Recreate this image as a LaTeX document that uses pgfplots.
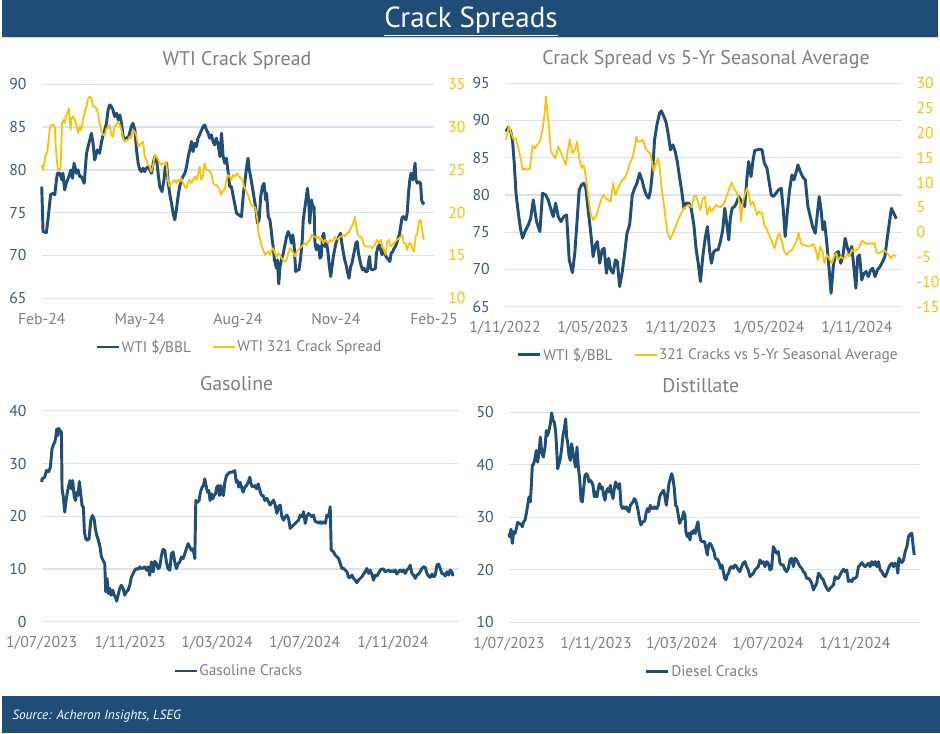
\documentclass[border=0pt]{standalone}
\usepackage{pgfplots}
\pgfplotsset{compat=1.18}
\usepackage{fontspec}
\setmainfont{PT Sans}
\definecolor{navy}{HTML}{1F4E79}
\definecolor{gold}{HTML}{FFC000}
\definecolor{gridc}{HTML}{DAE4F1}
\definecolor{tgray}{HTML}{7F7F7F}
\definecolor{yblue}{HTML}{3B5A80}
\definecolor{hdr}{HTML}{1F4D78}
\definecolor{sepc}{HTML}{C9D6E3}
\newcommand{\tickfont}{\fontsize{11.8}{13}\selectfont}
\newcommand{\legfont}{\fontsize{11.5}{13}\selectfont}
\newcommand{\titlefont}{\fontsize{14.9}{17}\selectfont}
\pgfplotsset{
  /pgf/number format/assume math mode=true,
  navyline/.style={navy, line width=2.2pt, line join=round},
  goldline/.style={gold, line width=1.3pt, line join=round},
  panel/.style={
    scale only axis, anchor=south west, clip=false,
    axis line style={draw=none},
    major tick length=0pt,
    ymajorgrids, grid style={gridc, line width=1pt},
    tick label style={font=\tickfont},
    xticklabel style={text=tgray, anchor=base, yshift=-19.5pt},
    legend image code/.code={\draw[#1, line cap=butt] (0pt,0pt) -- (16.5pt,0pt);},
    legend style={draw=none, fill=none, font=\legfont, text=tgray, anchor=center,
      nodes={inner sep=1pt},
      /tikz/every even column/.append style={column sep=15pt}},
  },
  leftlab/.style={ticklabel pos=left, yticklabel style={text=yblue, anchor=east, inner sep=0pt, xshift=-11.25pt}},
  rightlab/.style={ticklabel pos=right, hide x axis, ymajorgrids=false,
    yticklabel style={text=gold, anchor=west, inner sep=0pt, xshift=10.5pt}},
}
\begin{document}
\begin{tikzpicture}
\fill[white] (0pt,0pt) rectangle (705pt,-549.75pt);
\fill[hdr] (1.5pt,0pt) rectangle (703.5pt,-27.75pt);
\draw[sepc, line width=0.75pt] (1.5pt,-28.2pt) -- (703.5pt,-28.2pt);
\node[anchor=base, text=white, font=\fontsize{21.8}{24}\selectfont, inner sep=0pt] at (353.25pt,-20.5pt) {\underline{Crack Spreads}};
\fill[hdr] (1.5pt,-522pt) rectangle (705pt,-549.75pt);
\node[anchor=base west, text=white, font=\fontsize{10}{12}\selectfont\itshape, inner sep=0pt] at (9pt,-539.5pt) {Source: Acheron Insights, LSEG};
\node[anchor=base, text=tgray, font=\titlefont, inner sep=0pt] at (177.75pt,-48.75pt) {WTI Crack Spread};
\node[anchor=base, text=tgray, font=\titlefont, inner sep=0pt] at (529.5pt,-48pt) {Crack Spread vs 5-Yr Seasonal Average};
\node[anchor=base, text=tgray, font=\titlefont, inner sep=0pt] at (177.5pt,-293pt) {Gasoline};
\node[anchor=base, text=tgray, font=\titlefont, inner sep=0pt] at (525.6pt,-294.2pt) {Distillate};

% ---------------- TL ----------------
\begin{axis}[panel, leftlab, at={(31.3pt,-223.7pt)}, width=294.2pt, height=160.5pt,
  xmin=0, xmax=12, ymin=65, ymax=90, ytick={65,70,...,90},
  xtick={0,3,6,9,12}, xticklabels={Feb-24,May-24,Aug-24,Nov-24,Feb-25}]
\addplot[navyline] coordinates {(0,78.05)(0.04,72.79)(0.14,72.67)(0.19,74.16)(0.27,77.08)(0.35,77.27)(0.40,77.08)(0.45,78.83)(0.48,79.61)(0.55,79.61)(0.62,78.83)(0.65,79.61)(0.70,77.66)(0.75,78.44)(0.83,79.22)(0.89,80.0)(0.94,79.02)(0.99,80.78)(1.06,79.61)(1.11,80.0)(1.16,79.22)(1.21,79.22)(1.30,78.44)(1.37,81.94)(1.42,82.72)(1.52,84.28)(1.57,83.11)(1.62,81.16)(1.70,82.33)(1.77,81.94)(1.83,83.31)(1.88,84.09)(1.93,84.67)(1.98,85.45)(2.03,87.0)(2.08,87.59)(2.13,87.40)(2.18,87.0)(2.23,86.23)(2.29,86.62)(2.34,85.84)(2.39,86.42)(2.44,85.45)(2.49,83.89)(2.54,83.50)(2.59,83.70)(2.66,83.89)(2.74,85.06)(2.79,85.45)(2.85,84.67)(2.90,82.33)(2.95,80.78)(3.00,80.0)(3.05,79.80)(3.10,80.19)(3.15,79.80)(3.20,80.19)(3.26,80.39)(3.31,80.0)(3.36,79.61)(3.41,80.78)(3.46,81.55)(3.51,81.36)(3.56,79.61)(3.61,78.05)(3.68,77.46)(3.74,78.83)(3.78,80.39)(3.82,80.78)(3.87,78.44)(3.92,77.08)(3.97,76.10)(4.02,74.93)(4.07,74.16)(4.12,75.32)(4.17,76.88)(4.22,78.05)(4.27,78.83)(4.32,79.22)(4.38,79.61)(4.43,80.39)(4.48,81.55)(4.53,82.33)(4.58,83.31)(4.63,82.14)(4.68,83.11)(4.73,82.72)(4.78,83.70)(4.83,84.09)(4.89,84.67)(4.94,85.06)(4.99,85.25)(5.04,84.67)(5.09,84.28)(5.14,83.70)(5.19,84.09)(5.24,83.31)(5.29,82.92)(5.34,83.70)(5.40,82.92)(5.45,81.55)(5.50,84.28)(5.55,81.55)(5.60,80.78)(5.65,81.36)(5.70,79.80)(5.75,78.05)(5.80,78.05)(5.85,77.08)(5.90,76.10)(5.96,74.93)(6.03,74.74)(6.11,74.54)(6.17,77.27)(6.21,78.44)(6.27,80.39)(6.31,81.36)(6.35,80.0)(6.39,79.22)(6.44,78.05)(6.49,76.88)(6.54,75.71)(6.60,73.77)(6.65,74.16)(6.70,76.88)(6.75,78.05)(6.80,78.44)(6.85,76.49)(6.88,77.27)(6.93,74.54)(6.98,74.16)(7.02,72.99)(7.05,71.82)(7.08,71.04)(7.12,69.48)(7.18,68.51)(7.21,69.48)(7.25,66.68)(7.29,68.70)(7.33,69.48)(7.39,70.26)(7.43,71.04)(7.49,72.21)(7.54,72.79)(7.60,72.21)(7.64,71.43)(7.68,72.40)(7.72,71.24)(7.77,68.12)(7.82,68.31)(7.87,68.31)(7.92,69.68)(7.97,71.82)(8.00,74.16)(8.04,75.32)(8.09,76.69)(8.13,77.85)(8.17,76.10)(8.20,73.77)(8.25,76.49)(8.29,75.71)(8.33,75.71)(8.36,71.43)(8.40,70.65)(8.43,71.24)(8.48,71.04)(8.51,69.68)(8.55,69.87)(8.59,72.21)(8.63,72.60)(8.67,71.04)(8.71,71.62)(8.76,70.26)(8.80,68.70)(8.84,67.54)(8.88,68.70)(8.92,69.87)(8.96,70.65)(9.00,71.43)(9.04,71.82)(9.09,72.21)(9.14,72.60)(9.18,71.43)(9.23,70.26)(9.27,69.48)(9.31,68.90)(9.35,68.12)(9.40,67.34)(9.45,68.70)(9.49,69.09)(9.53,69.87)(9.57,70.65)(9.61,71.43)(9.65,71.62)(9.69,70.26)(9.74,69.29)(9.78,68.70)(9.82,68.31)(9.86,68.51)(9.91,68.12)(9.96,68.12)(10.00,69.29)(10.03,69.87)(10.06,68.51)(10.11,68.31)(10.16,68.39)(10.21,68.51)(10.24,70.26)(10.29,71.04)(10.33,71.24)(10.37,70.65)(10.41,70.07)(10.45,70.65)(10.49,70.46)(10.53,69.87)(10.57,69.68)(10.61,69.48)(10.65,69.29)(10.69,70.26)(10.74,70.46)(10.78,70.85)(10.82,71.04)(10.86,71.43)(10.90,72.01)(10.94,72.40)(10.98,73.38)(11.02,74.35)(11.06,74.54)(11.10,74.35)(11.14,74.16)(11.18,74.93)(11.22,77.27)(11.26,78.83)(11.30,79.61)(11.35,78.83)(11.39,79.80)(11.42,80.78)(11.45,78.83)(11.49,78.44)(11.54,78.63)(11.59,78.44)(11.62,76.49)(11.66,76.10)(11.71,76.02)};
\end{axis}
\begin{axis}[panel, rightlab, at={(31.3pt,-223.7pt)}, width=294.2pt, height=160.5pt,
  xmin=0, xmax=12, ymin=10, ymax=35, ytick={10,15,...,35},
  legend columns=2, legend style={at={(0.503,-0.2276)}}]
\addlegendimage{navyline}\addlegendentry{WTI \$/BBL}
\addplot[goldline] coordinates {(0.0,25.58)(0.04,25.0)(0.11,26.55)(0.17,27.14)(0.21,28.50)(0.25,29.86)(0.30,30.25)(0.36,30.25)(0.40,30.06)(0.43,27.72)(0.47,25.78)(0.50,25.0)(0.55,25.0)(0.58,25.39)(0.62,30.45)(0.66,30.84)(0.70,30.45)(0.74,31.23)(0.78,31.62)(0.83,32.20)(0.88,29.67)(0.91,31.03)(0.96,31.23)(1.01,30.84)(1.06,30.25)(1.11,29.28)(1.16,30.06)(1.21,29.67)(1.26,30.84)(1.32,31.81)(1.37,32.40)(1.42,33.37)(1.47,33.56)(1.52,33.37)(1.57,32.40)(1.62,32.40)(1.67,32.20)(1.72,31.62)(1.77,30.45)(1.83,29.47)(1.88,29.08)(1.93,29.08)(1.98,29.86)(2.03,29.86)(2.08,30.25)(2.13,29.08)(2.18,28.89)(2.23,30.06)(2.28,30.25)(2.33,30.64)(2.39,30.25)(2.44,29.67)(2.49,28.69)(2.54,28.31)(2.59,28.50)(2.64,28.50)(2.69,28.89)(2.74,28.69)(2.79,29.67)(2.84,29.47)(2.89,29.08)(2.95,27.72)(3.00,27.92)(3.05,28.11)(3.10,28.31)(3.15,26.55)(3.20,26.16)(3.25,25.58)(3.30,25.39)(3.35,24.80)(3.40,25.39)(3.46,26.75)(3.51,26.55)(3.56,26.16)(3.61,25.78)(3.66,25.58)(3.71,25.78)(3.76,25.58)(3.81,25.97)(3.86,23.83)(3.91,23.05)(3.96,23.44)(4.02,23.63)(4.07,23.83)(4.12,23.44)(4.17,23.83)(4.22,23.63)(4.27,24.02)(4.32,23.44)(4.37,23.05)(4.42,22.85)(4.47,23.44)(4.52,23.83)(4.58,23.44)(4.63,23.83)(4.68,24.22)(4.73,23.83)(4.78,24.41)(4.83,25.39)(4.88,23.83)(4.93,24.22)(4.98,25.78)(5.04,25.0)(5.09,25.0)(5.14,24.80)(5.19,24.61)(5.24,23.44)(5.29,23.24)(5.34,23.24)(5.39,23.05)(5.44,22.66)(5.49,22.08)(5.55,22.66)(5.60,22.66)(5.65,23.83)(5.70,24.41)(5.75,24.22)(5.80,23.83)(5.85,24.41)(5.90,24.22)(5.98,24.61)(6.03,24.22)(6.09,24.02)(6.14,23.83)(6.19,23.05)(6.24,22.66)(6.29,22.27)(6.34,21.69)(6.39,21.10)(6.44,20.71)(6.49,20.71)(6.54,20.52)(6.60,19.16)(6.63,17.60)(6.68,16.82)(6.73,16.04)(6.78,15.65)(6.83,15.07)(6.88,15.26)(6.93,15.46)(6.98,15.07)(7.03,15.65)(7.08,15.85)(7.13,15.26)(7.19,14.87)(7.24,15.26)(7.29,15.07)(7.34,14.68)(7.39,14.48)(7.44,14.29)(7.49,14.48)(7.54,15.26)(7.60,15.85)(7.65,15.65)(7.70,15.26)(7.75,14.87)(7.80,15.46)(7.85,15.65)(7.90,15.85)(7.95,16.04)(8.00,16.23)(8.05,16.43)(8.10,16.23)(8.15,16.62)(8.21,16.82)(8.26,17.40)(8.31,17.21)(8.36,17.21)(8.41,17.01)(8.46,17.21)(8.51,16.82)(8.56,17.01)(8.61,16.43)(8.66,16.82)(8.71,16.62)(8.77,16.43)(8.82,16.82)(8.87,16.62)(8.92,16.82)(8.97,17.21)(9.02,17.01)(9.07,16.82)(9.12,17.21)(9.17,17.21)(9.23,17.40)(9.28,17.21)(9.33,17.60)(9.38,17.60)(9.43,17.99)(9.48,18.38)(9.53,18.77)(9.58,19.54)(9.62,18.38)(9.66,17.60)(9.70,17.21)(9.76,17.21)(9.81,16.82)(9.86,16.23)(9.91,16.04)(9.96,16.04)(10.01,16.04)(10.06,16.04)(10.11,15.85)(10.16,16.04)(10.21,16.43)(10.26,16.82)(10.31,16.43)(10.37,16.82)(10.42,16.04)(10.47,15.65)(10.52,15.07)(10.57,16.62)(10.62,16.82)(10.67,16.04)(10.72,16.23)(10.77,16.43)(10.82,16.62)(10.87,16.82)(10.93,17.01)(10.98,17.21)(11.03,17.40)(11.08,16.43)(11.13,16.43)(11.18,15.65)(11.23,16.43)(11.28,16.43)(11.34,15.85)(11.39,15.46)(11.44,17.21)(11.49,17.60)(11.54,18.96)(11.59,19.16)(11.62,18.38)(11.65,17.60)(11.69,16.82)};
\addlegendentry{WTI 321 Crack Spread}
\end{axis}

% ---------------- TR ----------------
\begin{axis}[panel, leftlab, at={(378.75pt,-230pt)}, width=298pt, height=167.6pt,
  xmin=0, xmax=27.1, ymin=65, ymax=95, ytick={65,70,...,95},
  xtick={0,6,12,18,24}, xticklabels={1/11/2022,1/05/2023,1/11/2023,1/05/2024,1/11/2024}]
\addplot[navyline] coordinates {(0.07,88.51)(0.23,89.09)(0.39,88.51)(0.52,87.17)(0.63,84.26)(0.75,80.23)(0.91,77.54)(1.07,75.31)(1.20,74.19)(1.36,75.08)(1.59,75.98)(1.75,76.87)(1.93,79.33)(2.15,76.42)(2.38,75.08)(2.56,80.23)(2.77,80.0)(2.95,79.33)(3.11,78.21)(3.29,77.09)(3.45,78.89)(3.63,77.09)(3.81,76.42)(4.01,77.09)(4.20,77.32)(4.38,71.28)(4.60,69.58)(4.76,72.17)(4.92,76.65)(5.06,80.68)(5.22,81.35)(5.37,81.57)(5.51,80.90)(5.67,77.99)(5.83,75.31)(6.01,71.72)(6.17,73.29)(6.30,73.74)(6.46,70.83)(6.62,72.62)(6.76,72.84)(6.92,69.49)(7.07,71.50)(7.21,69.93)(7.37,69.49)(7.53,71.28)(7.66,71.06)(7.82,67.70)(8.00,69.71)(8.16,72.17)(8.32,74.86)(8.50,75.98)(8.68,80.0)(8.84,80.90)(9.00,81.57)(9.18,82.92)(9.34,82.02)(9.48,80.90)(9.64,80.0)(9.80,79.56)(9.93,80.68)(10.09,83.81)(10.20,87.39)(10.36,89.40)(10.54,90.97)(10.66,91.28)(10.84,90.52)(11.00,89.63)(11.16,87.84)(11.29,86.05)(11.45,86.72)(11.61,85.82)(11.75,84.48)(11.90,82.47)(12.06,80.45)(12.20,78.21)(12.36,78.89)(12.54,78.89)(12.70,78.21)(12.88,75.98)(13.04,72.62)(13.18,70.83)(13.33,68.37)(13.49,71.72)(13.67,74.41)(13.81,75.75)(13.95,72.62)(14.08,70.83)(14.24,72.40)(14.40,72.62)(14.54,72.62)(14.69,73.74)(14.85,75.31)(14.99,78.21)(15.15,75.75)(15.26,73.96)(15.37,76.87)(15.49,78.21)(15.65,78.44)(15.78,78.89)(15.94,79.78)(16.08,79.33)(16.21,78.89)(16.35,78.44)(16.49,82.02)(16.62,84.48)(16.78,82.47)(16.92,84.71)(17.03,85.96)(17.19,86.05)(17.35,86.14)(17.53,86.05)(17.69,84.26)(17.87,83.59)(18.03,81.57)(18.16,80.0)(18.32,79.78)(18.48,80.23)(18.66,80.68)(18.84,80.90)(18.98,77.99)(19.11,74.41)(19.27,77.99)(19.41,80.68)(19.57,82.69)(19.71,82.02)(19.84,82.92)(19.98,84.04)(20.14,83.14)(20.29,82.47)(20.48,82.02)(20.66,78.44)(20.82,77.09)(20.98,75.75)(21.16,74.86)(21.32,77.77)(21.43,79.78)(21.56,77.99)(21.68,75.31)(21.79,76.42)(21.95,73.52)(22.11,69.93)(22.24,66.80)(22.40,70.61)(22.56,72.17)(22.74,72.40)(22.90,70.83)(23.04,71.72)(23.20,74.19)(23.36,72.84)(23.49,72.17)(23.65,73.07)(23.79,70.38)(23.93,67.47)(24.06,71.72)(24.18,71.95)(24.33,68.59)(24.49,69.49)(24.63,69.71)(24.78,69.04)(24.94,69.93)(25.08,70.16)(25.24,69.04)(25.40,69.93)(25.58,70.38)(25.76,71.06)(25.91,71.72)(26.05,73.9)(26.35,78.2)(26.5,77.6)(26.69,76.8)};
\end{axis}
\begin{axis}[panel, rightlab, at={(378.75pt,-230pt)}, width=298pt, height=167.6pt,
  xmin=0, xmax=27.1, ymin=-15, ymax=30, ytick={-15,-10,...,30},
  legend columns=2, legend style={at={(0.511,-0.216)}}]
\addlegendimage{navyline}\addlegendentry{WTI \$/BBL}
\addplot[goldline] coordinates {(0.07,18.59)(0.27,21.41)(0.45,19.59)(0.61,18.59)(0.75,18.92)(0.91,16.91)(1.07,14.89)(1.20,12.54)(1.36,12.88)(1.52,12.54)(1.70,12.88)(1.88,17.38)(2.04,16.91)(2.20,17.58)(2.38,18.25)(2.56,20.60)(2.68,23.29)(2.79,27.32)(2.90,23.96)(3.02,20.60)(3.13,16.24)(3.29,15.56)(3.45,14.89)(3.63,17.24)(3.79,16.24)(3.97,14.89)(4.15,13.55)(4.31,16.91)(4.42,18.72)(4.60,15.90)(4.76,16.57)(4.92,18.25)(5.06,14.89)(5.22,12.88)(5.37,13.55)(5.51,11.20)(5.67,7.50)(5.83,3.81)(6.01,2.47)(6.19,3.14)(6.35,4.48)(6.51,6.16)(6.69,7.50)(6.87,6.83)(7.03,6.50)(7.21,6.16)(7.37,9.86)(7.53,7.50)(7.66,8.51)(7.82,9.52)(8.00,10.53)(8.16,10.86)(8.32,11.87)(8.50,13.88)(8.68,14.89)(8.84,16.91)(8.96,19.26)(9.07,18.25)(9.23,18.25)(9.41,18.59)(9.57,16.91)(9.75,16.24)(9.91,15.90)(10.02,14.22)(10.14,12.21)(10.27,13.55)(10.43,14.89)(10.54,13.21)(10.70,8.51)(10.88,4.48)(11.07,0.12)(11.27,-1.43)(11.45,-0.22)(11.63,1.13)(11.81,2.47)(12.02,3.81)(12.20,4.82)(12.40,5.29)(12.54,5.49)(12.72,5.02)(12.88,7.17)(13.04,7.30)(13.18,5.83)(13.33,4.48)(13.49,6.83)(13.63,7.17)(13.79,3.48)(13.95,5.16)(14.08,4.15)(14.24,4.82)(14.40,5.49)(14.54,5.16)(14.69,5.02)(14.85,5.49)(14.99,6.16)(15.15,7.50)(15.31,8.85)(15.44,9.99)(15.60,8.85)(15.76,8.18)(15.90,7.17)(16.01,5.83)(16.10,2.13)(16.21,5.83)(16.35,7.50)(16.51,8.85)(16.62,7.84)(16.76,5.49)(16.90,6.16)(17.03,5.16)(17.19,3.48)(17.35,4.15)(17.53,3.81)(17.69,1.46)(17.87,0.45)(18.03,-0.55)(18.21,-1.90)(18.39,-3.24)(18.55,-1.23)(18.71,-0.22)(18.89,-1.90)(19.05,-3.91)(19.23,-4.58)(19.39,-3.91)(19.57,-3.58)(19.75,-2.57)(19.91,-1.56)(20.02,-0.08)(20.18,-2.23)(20.33,-2.57)(20.52,-2.70)(20.70,-2.90)(20.88,-2.70)(21.04,-2.37)(21.20,-3.58)(21.34,-5.59)(21.50,-2.90)(21.66,-3.91)(21.79,-6.26)(21.95,-4.58)(22.11,-5.25)(22.29,-6.26)(22.45,-4.92)(22.59,-4.25)(22.74,-5.59)(22.90,-4.92)(23.04,-5.25)(23.20,-5.25)(23.36,-4.25)(23.49,-4.92)(23.65,-3.58)(23.81,-3.91)(23.97,-3.58)(24.11,-3.24)(24.27,-2.23)(24.40,-1.70)(24.56,-2.23)(24.72,-2.37)(24.90,-2.23)(25.04,-2.37)(25.19,-2.10)(25.35,-4.11)(25.51,-4.25)(25.69,-3.91)(25.85,-3.58)(26.07,-4.25)(26.35,-5.26)(26.45,-4.6)(26.69,-4.8)};
\addlegendentry{321 Cracks vs 5-Yr Seasonal Average}
\end{axis}

% ---------------- BL ----------------
\begin{axis}[panel, leftlab, at={(31.3pt,-466.3pt)}, width=313pt, height=158.25pt,
  xmin=0, xmax=581, ymin=0, ymax=40, ytick={0,10,...,40},
  xtick={0,123,244,366,489}, xticklabels={1/07/2023,1/11/2023,1/03/2024,1/07/2024,1/11/2024},
  legend style={at={(0.471,-0.2336)}}]
\addplot[navyline] coordinates {(0,26.45)(0.4,27.08)(4.1,27.40)(6.5,28.66)(9.7,28.47)(12.0,29.29)(14.3,32.75)(16.7,33.70)(18.1,34.01)(19.5,34.96)(20.9,36.53)(22.2,35.27)(23.6,36.66)(25.5,36.22)(27.4,35.90)(28.3,25.19)(30.1,23.62)(32.0,20.78)(33.9,22.99)(35.7,24.56)(37.6,25.82)(39.4,26.77)(41.3,25.19)(43.1,26.77)(45.0,23.93)(46.9,22.99)(48.7,24.56)(50.6,23.93)(52.4,26.58)(54.3,24.25)(56.1,22.04)(58.0,21.73)(59.4,17.0)(61.3,15.74)(63.6,15.43)(65.9,15.74)(68.2,19.21)(70.5,20.15)(72.9,19.52)(74.7,17.63)(76.6,16.37)(78.9,15.43)(81.2,14.17)(83.1,12.28)(85.4,11.65)(87.7,11.02)(89.1,5.67)(91.0,8.18)(92.8,5.35)(94.7,6.30)(96.5,5.04)(98.9,5.98)(100.7,5.04)(102.6,4.72)(104.4,3.90)(106.3,5.04)(108.6,6.30)(110.9,6.93)(113.3,6.30)(115.6,5.04)(117.9,5.67)(120.2,5.98)(122.6,6.93)(124.9,8.50)(127.2,9.13)(129.5,9.76)(131.8,10.07)(134.2,9.95)(136.5,10.39)(138.8,10.07)(141.1,10.20)(143.5,10.39)(145.8,9.76)(148.1,10.39)(150.4,8.81)(152.7,11.34)(155.1,9.45)(157.4,11.46)(159.7,11.02)(162.0,10.07)(164.3,10.39)(166.7,12.59)(169.0,13.73)(171.3,13.54)(173.6,11.34)(175.9,10.07)(178.3,9.76)(180.6,12.91)(182.9,13.23)(185.2,11.34)(187.6,10.07)(189.9,11.02)(192.2,11.34)(194.5,12.28)(196.8,11.97)(199.2,12.91)(201.5,13.86)(203.8,14.80)(206.1,14.17)(208.5,13.54)(210.8,13.86)(213.1,11.97)(214.5,22.99)(216.8,22.67)(219.1,22.99)(220.9,24.56)(223.3,25.51)(225.1,25.82)(227.0,27.08)(228.8,25.82)(230.7,24.56)(232.6,24.88)(234.4,22.99)(236.3,24.25)(238.1,23.30)(240.0,23.93)(241.9,24.25)(243.7,25.51)(245.6,25.82)(247.4,23.93)(249.3,25.82)(251.2,24.25)(253.0,23.93)(254.9,26.45)(257.2,27.71)(259.5,28.03)(261.8,28.34)(264.2,28.34)(266.5,28.47)(268.8,28.66)(270.7,26.45)(272.5,26.77)(274.4,25.51)(276.3,26.45)(278.1,25.51)(280.4,24.56)(282.7,25.51)(285.1,25.82)(287.4,26.45)(289.7,27.40)(292.0,25.82)(294.4,25.51)(296.7,25.82)(299.0,25.19)(301.3,26.14)(303.7,24.88)(306.0,23.93)(308.3,23.93)(310.6,22.99)(313.4,23.38)(318,22.12)(322.7,23.07)(325,22.12)(327.3,20.54)(329.6,21.80)(332,22.12)(334.3,19.91)(336.6,19.27)(338.9,19.91)(341.3,20.22)(343.6,19.59)(345.9,17.69)(348.2,18.01)(350.6,18.33)(352.9,18.64)(355.2,18.96)(357.5,19.27)(359.8,20.22)(362.2,19.91)(364.5,20.86)(366.8,18.64)(369.1,19.91)(371.4,20.54)(373.8,20.22)(376.1,19.91)(378.4,20.22)(380.7,18.96)(383,18.96)(385.4,18.64)(387.7,18.96)(390,18.64)(392.3,18.96)(394.7,18.64)(397,20.22)(399.3,19.91)(401.6,21.80)(403,13.59)(406.2,13.27)(408.5,12.64)(410.9,12.32)(413.2,12.01)(415.5,11.06)(417.8,10.11)(420.1,10.11)(422.5,9.80)(424.8,9.48)(427.1,8.41)(429.4,8.41)(431.8,8.85)(434.1,8.22)(436.4,7.90)(438.7,7.39)(441,7.90)(443.4,8.22)(445.7,8.53)(448,9.04)(450.3,9.48)(452.6,10.11)(455,9.16)(457.3,9.80)(459.6,9.04)(461.9,7.90)(464.3,8.85)(466.6,8.66)(468.9,9.16)(471.2,9.80)(473.5,9.98)(475.9,9.98)(478.2,9.48)(480.5,9.61)(482.8,9.80)(485.1,9.48)(487.5,9.67)(489.8,9.48)(492.1,9.80)(494.4,9.04)(496.8,9.48)(499.1,9.80)(501.4,9.48)(503.7,9.80)(506,9.16)(508.4,9.80)(510.7,10.11)(513,10.74)(515.3,9.16)(517.6,8.85)(520,8.22)(522.3,8.85)(524.6,9.04)(526.9,9.48)(529.3,10.11)(531.6,10.43)(533.9,10.30)(536.2,9.16)(538.5,8.66)(540.9,8.41)(543.2,9.04)(545.5,8.53)(547.8,8.85)(550.2,10.74)(552.5,10.93)(554.8,10.11)(557.1,9.16)(559.4,9.04)(561.8,8.66)(564.1,9.48)(566.4,8.85)(568.7,9.80)(571,9.48)(572.4,8.66)};
\addlegendentry{Gasoline Cracks}
\end{axis}

% ---------------- BR ----------------
\begin{axis}[panel, leftlab, at={(381.75pt,-466.7pt)}, width=308.25pt, height=157.5pt,
  xmin=0, xmax=581, ymin=10, ymax=50, ytick={10,20,...,50},
  xtick={0,123,244,366,489}, xticklabels={1/07/2023,1/11/2023,1/03/2024,1/07/2024,1/11/2024},
  legend style={at={(0.470,-0.235)}}]
\addplot[navyline] coordinates {(0,26.93)(0.9,26.30)(2.8,27.75)(4.7,25.04)(6.6,27.25)(8.5,26.93)(10.4,27.88)(12.2,29.02)(14.6,28.83)(17.0,28.64)(18.8,28.20)(20.7,29.14)(22.6,29.46)(24.5,30.72)(26.4,32.30)(28.3,33.88)(30.1,32.93)(31.6,36.09)(33.0,39.89)(34.9,40.20)(36.7,41.15)(38.6,42.73)(40.5,40.52)(42.4,42.41)(44.3,45.26)(46.2,42.41)(48.5,41.47)(50.9,43.36)(52.8,46.52)(54.6,45.57)(56.5,46.52)(58.4,47.78)(60.3,49.87)(62.2,48.42)(64.1,48.10)(66.0,46.21)(67.4,43.05)(68.8,39.25)(70.7,40.20)(72.5,41.15)(74.4,43.05)(76.3,45.57)(78.2,46.84)(80.1,48.73)(81.5,45.26)(82.9,44.31)(84.8,41.78)(86.7,40.83)(88.6,43.99)(90.4,42.41)(92.3,40.83)(94.2,39.57)(96.1,43.36)(98.0,39.57)(99.9,37.36)(101.8,33.25)(103.6,32.93)(105.5,35.46)(107.4,37.99)(109.3,38.30)(111.2,37.99)(113.1,36.73)(114.9,37.04)(116.8,36.73)(118.7,36.09)(120.6,33.88)(122.5,34.83)(124.4,33.88)(126.2,35.46)(128.1,36.41)(130.0,35.46)(131.9,35.78)(133.8,34.20)(135.7,33.25)(137.5,34.83)(139.4,35.46)(141.3,34.83)(143.2,36.09)(145.1,34.51)(147.0,33.57)(148.9,35.46)(150.7,36.73)(152.6,36.09)(154.5,35.46)(156.4,36.41)(158.3,32.30)(160.2,31.67)(162.0,31.99)(163.9,31.67)(165.8,31.99)(167.7,31.36)(169.6,31.04)(171.5,32.30)(173.4,32.62)(175.2,32.93)(177.1,33.57)(179.0,33.25)(180.9,32.30)(182.8,31.04)(184.7,29.46)(186.5,28.51)(188.4,29.14)(190.3,29.14)(192.2,29.46)(194.1,31.04)(196.0,31.67)(197.8,31.04)(199.7,32.30)(201.6,31.67)(203.5,31.67)(205.4,31.99)(207.3,31.67)(209.2,31.67)(211.0,32.30)(212.9,33.88)(214.8,34.51)(216.7,34.83)(218.6,35.15)(220.5,33.88)(222.4,32.30)(224.2,34.20)(226.1,36.41)(228.0,37.36)(229.9,38.30)(231.8,37.36)(233.7,35.46)(235.5,32.30)(237.4,31.99)(239.3,30.41)(241.2,28.83)(243.1,29.46)(245.0,29.78)(246.9,31.04)(248.7,30.41)(250.1,27.25)(252.0,26.30)(253.9,26.93)(255.8,25.67)(257.7,27.25)(259.6,26.93)(261.4,27.56)(263.3,26.93)(265.2,28.20)(267.1,29.14)(269.0,26.93)(270.9,25.67)(272.8,25.35)(274.6,25.35)(276.5,25.35)(278.4,24.09)(280.3,22.82)(282.2,24.72)(284.0,25.04)(285.9,24.72)(287.8,24.09)(289.7,23.46)(291.6,22.19)(293.5,22.07)(295.4,21.88)(297.2,21.24)(299.1,20.30)(301.0,20.93)(302.9,19.66)(304.8,18.40)(306.7,18.09)(308.5,19.03)(310.4,19.35)(312.3,20.30)(314.2,20.61)(317,20.28)(319.4,20.92)(321.7,20.60)(324.1,19.97)(326.4,19.65)(328.8,20.60)(331.1,21.24)(333.5,21.55)(335.9,20.60)(338.2,19.97)(340.6,18.70)(343.0,19.01)(345.3,19.33)(347.7,19.97)(350.0,20.28)(352.4,20.60)(354.8,21.87)(357.1,21.24)(359.5,21.55)(361.8,20.60)(364.2,21.55)(366.6,21.24)(368.9,19.97)(371.3,20.28)(373.6,24.41)(376.0,23.78)(378.3,23.14)(380.7,23.46)(383.1,21.24)(385.4,20.92)(387.8,20.92)(390.2,19.97)(392.5,19.65)(394.9,20.28)(397.2,21.87)(399.6,22.19)(402.0,20.60)(404.3,22.19)(406.7,21.87)(409.0,21.24)(411.4,20.60)(413.8,20.28)(416.1,19.65)(418.5,19.33)(420.8,18.38)(423.2,18.38)(425.6,18.06)(427.9,17.43)(430.3,16.16)(432.6,16.79)(435.0,17.43)(437.4,19.33)(439.7,19.01)(442.1,18.38)(444.4,18.06)(446.8,17.11)(449.2,16.48)(451.5,16.03)(453.9,16.48)(456.2,16.79)(458.6,17.11)(461.0,18.70)(463.3,18.38)(465.7,18.38)(468.0,19.01)(470.4,19.65)(472.8,20.09)(475.1,19.65)(477.5,19.97)(479.8,17.74)(482.2,18.06)(484.6,17.74)(486.9,18.38)(489.3,18.38)(491.6,18.70)(494.0,20.60)(496.4,20.92)(498.7,21.36)(501.1,20.92)(503.4,20.60)(505.8,20.92)(508.2,21.24)(510.5,20.60)(512.9,21.55)(515.2,20.92)(517.6,21.55)(520.0,20.60)(522.3,21.55)(524.7,19.97)(527.0,19.65)(529.4,19.01)(531.8,18.70)(534.1,19.33)(536.5,20.28)(538.8,20.92)(541.2,21.24)(543.6,20.60)(545.9,21.24)(548.3,20.60)(549.7,19.33)(551.1,22.19)(553.0,21.87)(555.4,21.36)(557.7,21.87)(560.1,23.46)(562.5,24.41)(564.8,26.32)(567.2,26.82)(569.5,26.95)(570.9,25.05)(572.8,22.82)};
\addlegendentry{Diesel Cracks}
\end{axis}
\end{tikzpicture}
\end{document}
